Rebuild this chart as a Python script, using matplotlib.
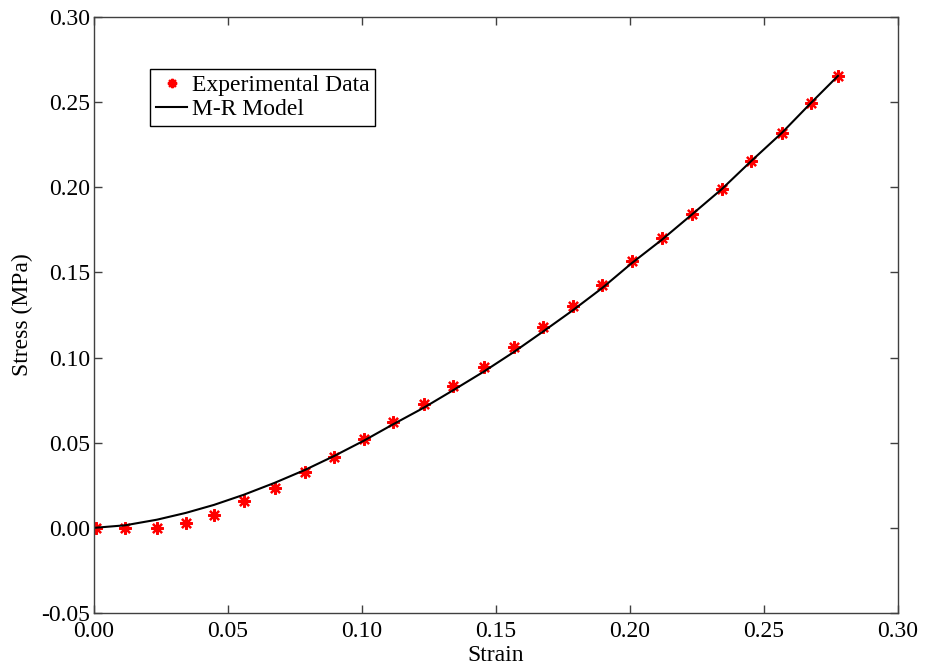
import numpy as np
import matplotlib
matplotlib.use("Agg")
import matplotlib.pyplot as plt
from matplotlib.ticker import FormatStrFormatter, MultipleLocator

plt.rcParams['font.family'] = ['Liberation Serif', 'DejaVu Serif']
plt.rcParams['axes.unicode_minus'] = False

strain_exp = [0.0007, 0.0116, 0.0235, 0.0343, 0.0448, 0.0560, 0.0675, 0.0787, 0.0896,
              0.1007, 0.1116, 0.1230, 0.1340, 0.1455, 0.1567, 0.1675, 0.1787, 0.1896,
              0.2007, 0.2119, 0.2231, 0.2343, 0.2451, 0.2567, 0.2675, 0.2776]
stress_exp = [0.0000, 0.0000, 0.0000, 0.0029, 0.0075, 0.0158, 0.0232, 0.0328, 0.0416,
              0.0522, 0.0622, 0.0727, 0.0833, 0.0945, 0.1062, 0.1180, 0.1303, 0.1426,
              0.1565, 0.1700, 0.1843, 0.1990, 0.2154, 0.2321, 0.2497, 0.2654]

# M-R model curve
strain_mr = [0.0, 0.0116, 0.0235, 0.0343, 0.0448, 0.0560, 0.0675, 0.0787, 0.0896,
             0.1007, 0.1116, 0.1230, 0.1340, 0.1455, 0.1567, 0.1675, 0.1787, 0.1896,
             0.2007, 0.2119, 0.2231, 0.2343, 0.2451, 0.2567, 0.2675, 0.2776]
stress_mr = [0.0, 0.0015, 0.0048, 0.0088, 0.0135, 0.0195, 0.0265, 0.0340, 0.0422,
             0.0512, 0.0608, 0.0705, 0.0808, 0.0918, 0.1033, 0.1152, 0.1278, 0.1408,
             0.1555, 0.1692, 0.1840, 0.1990, 0.2152, 0.2320, 0.2495, 0.2654]

fig = plt.figure(figsize=(9.25, 6.69), dpi=100)
ax = fig.add_axes([0.1016, 0.0837, 0.8692, 0.8909])

ax.plot(strain_exp, stress_exp, linestyle='none', marker=(8, 2, 0), color='red',
        markersize=9, markeredgewidth=1.6, label='Experimental Data')
ax.plot(strain_mr, stress_mr, color='black', linewidth=1.5, label='M-R Model')

ax.set_xlim(0, 0.30)
ax.set_ylim(-0.05, 0.30)
ax.xaxis.set_major_locator(MultipleLocator(0.05))
ax.yaxis.set_major_locator(MultipleLocator(0.05))
ax.xaxis.set_major_formatter(FormatStrFormatter('%.2f'))
ax.yaxis.set_major_formatter(FormatStrFormatter('%.2f'))
ax.tick_params(direction='in', length=6, width=1, top=True, right=True,
               labelsize=17, color='#404040')
ax.tick_params(axis='x', pad=6)
ax.tick_params(axis='y', pad=3)
for s in ax.spines.values():
    s.set_color('#404040')
    s.set_linewidth(1)

ax.set_xlabel('Strain', fontsize=17, labelpad=2)
ax.set_ylabel('Stress (MPa)', fontsize=17, labelpad=6)

leg = ax.legend(loc='upper left', bbox_to_anchor=(0.07, 0.913), fontsize=17,
                frameon=True, fancybox=False, edgecolor='black', framealpha=1,
                handlelength=1.3, borderpad=0.25, labelspacing=0.1, handletextpad=0.2,
                borderaxespad=0, markerscale=0.75)
leg.get_frame().set_linewidth(1)

fig.savefig('out.png', dpi=100)
